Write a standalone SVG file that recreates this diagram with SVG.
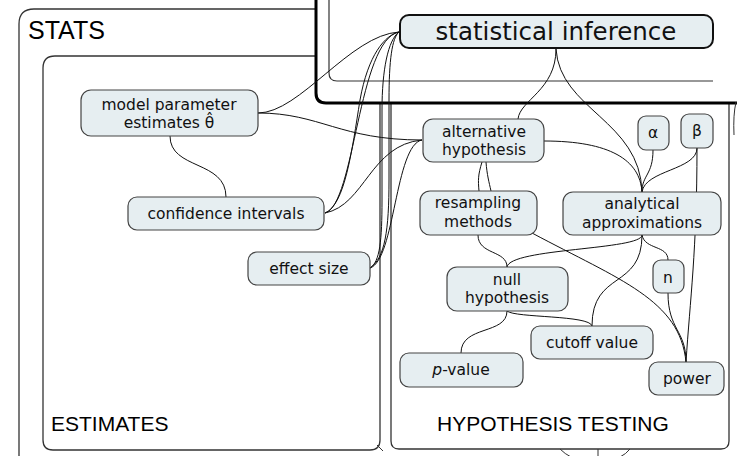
<svg xmlns="http://www.w3.org/2000/svg" width="737" height="456" viewBox="0 0 737 456">
<style>
.frame{fill:none;stroke:#333;stroke-width:1.3}
.conn path{fill:none;stroke:#111;stroke-width:1}
.node rect{fill:#e6eef1;stroke:#444;stroke-width:1.2}
.node text{font-family:"DejaVu Sans",Verdana,sans-serif;font-size:15.5px;fill:#111;text-anchor:middle}
.title{font-family:"Liberation Sans",Arial,sans-serif;fill:#000}
</style>
<rect width="737" height="456" fill="#fff"/>
<g id="frames">
<path class="frame" d="M19,460 L19,24 Q19,9 34,9 L320,9"/>
<path class="frame" d="M380,100 L380,440 Q380,450 370,450 L53,450 Q43,450 43,440 L43,68 Q43,56 55,56 L320,56"/>
<path class="frame" d="M391,100 L391,441 Q391,449 399,449 L721,449 Q729,449 729,441 L729,100"/>
<path d="M316,-5 L316,93 Q316,103 326,103 L742,103 L742,-5 Z" fill="#fff" stroke="#000" stroke-width="3"/>
<path d="M329,-5 L329,73 Q329,81 337,81 L713,81" fill="none" stroke="#333" stroke-width="1.2"/>
<path d="M736,102 Q733,115 734,135" fill="none" stroke="#333" stroke-width="1"/>
<path d="M560,449 Q565,454 571,457 M598,449 L598,457 M630,449 Q626,454 620,457" fill="none" stroke="#333" stroke-width="1"/>
<path d="M377,445 L383,451" fill="none" stroke="#333" stroke-width="1"/>
<text class="title" x="28" y="39" font-size="25">STATS</text>
<text class="title" x="51" y="431" font-size="21">ESTIMATES</text>
<text class="title" x="437" y="431" font-size="21">HYPOTHESIS TESTING</text>
</g>
<g id="connectors" class="conn">
<path d="M258,113 C300,113 350,35 399,32"/>
<path d="M325,213 C355,205 358,40 399,32"/>
<path d="M325,213 C345,205 352,150 360,100 C368,55 385,35 399,32"/>
<path d="M370,268 C380,262 382,240 382,200 L382,110 C382,70 388,40 399,32"/>
<path d="M370,268 C385,258 389,230 389,180 L389,100 C389,60 392,38 399,32"/>
<path d="M258,113 C320,113 340,140 422,140"/>
<path d="M325,213 C365,205 370,145 422,140"/>
<path d="M370,268 C395,260 395,145 422,140"/>
<path d="M170,136 C170,170 226,160 226,197"/>
<path d="M556,49 C556,90 520,100 518,119"/>
<path d="M556,49 C560,110 640,120 642,192"/>
<path d="M544,141 C610,141 640,160 642,192"/>
<path d="M653,150 C653,175 642,175 642,192"/>
<path d="M697,148 C697,170 645,170 642,192"/>
<path d="M697,148 C697,250 690,300 686,362"/>
<path d="M482,162 C478,175 478,180 479,191"/>
<path d="M486,162 C487,175 489,182 491,191"/>
<path d="M478,235 C478,255 507,250 507,267"/>
<path d="M642,235 C642,250 510,248 507,267"/>
<path d="M642,235 C645,250 668,245 668,260"/>
<path d="M642,235 C642,290 592,270 592,326"/>
<path d="M532,233 C620,280 680,300 686,362"/>
<path d="M668,293 C668,330 686,330 686,362"/>
<path d="M507,311 C507,335 461,325 461,353"/>
<path d="M507,311 C515,318 590,315 592,326"/>
</g>
<g id="statistical-inference" class="node">
<rect x="400" y="15" width="313" height="33" rx="9" style="stroke:#111;stroke-width:2"/>
<text x="556" y="40" style="font-size:24.5px">statistical inference</text>
</g>
<g id="model-parameter-estimates" class="node">
<rect x="81" y="90" width="177" height="46" rx="10"/>
<text x="169" y="110">model parameter</text>
<text x="169" y="128">estimates θ̂</text>
</g>
<g id="confidence-intervals" class="node">
<rect x="128" y="197" width="196" height="33" rx="9"/>
<text x="226" y="219">confidence intervals</text>
</g>
<g id="effect-size" class="node">
<rect x="248" y="252" width="122" height="33" rx="9"/>
<text x="309" y="274">effect size</text>
</g>
<g id="alternative-hypothesis" class="node">
<rect x="423" y="119" width="121" height="43" rx="10"/>
<text x="484" y="137">alternative</text>
<text x="484" y="155">hypothesis</text>
</g>
<g id="alpha" class="node">
<rect x="638" y="116" width="31" height="34" rx="8"/>
<text x="653" y="138">α</text>
</g>
<g id="beta" class="node">
<rect x="681" y="114" width="32" height="34" rx="8"/>
<text x="697" y="136">β</text>
</g>
<g id="resampling-methods" class="node">
<rect x="420" y="191" width="117" height="44" rx="10"/>
<text x="478" y="208">resampling</text>
<text x="478" y="227">methods</text>
</g>
<g id="analytical-approximations" class="node">
<rect x="563" y="192" width="158" height="43" rx="10"/>
<text x="642" y="209">analytical</text>
<text x="642" y="228">approximations</text>
</g>
<g id="null-hypothesis" class="node">
<rect x="447" y="267" width="121" height="44" rx="10"/>
<text x="507" y="285">null</text>
<text x="507" y="303">hypothesis</text>
</g>
<g id="n" class="node">
<rect x="653" y="260" width="31" height="33" rx="8"/>
<text x="668" y="283">n</text>
</g>
<g id="cutoff-value" class="node">
<rect x="531" y="326" width="122" height="33" rx="9"/>
<text x="592" y="348">cutoff value</text>
</g>
<g id="p-value" class="node">
<rect x="400" y="353" width="123" height="34" rx="9"/>
<text x="461" y="375"><tspan font-style="italic">p</tspan>-value</text>
</g>
<g id="power" class="node">
<rect x="649" y="362" width="75" height="33" rx="9"/>
<text x="687" y="384">power</text>
</g>
</svg>
